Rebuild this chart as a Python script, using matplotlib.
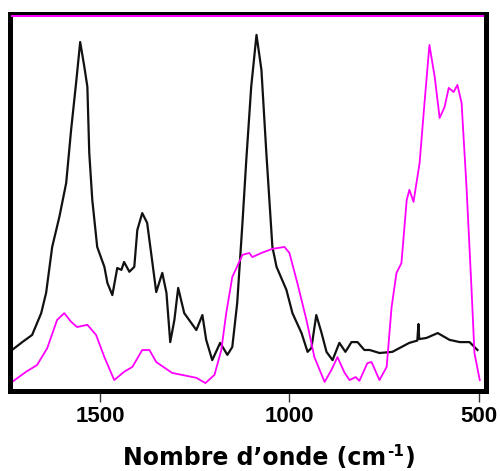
import matplotlib
matplotlib.use("Agg")
import matplotlib.pyplot as plt

plt.rcParams['font.family'] = ['Liberation Sans', 'DejaVu Sans']

# Black spectrum (wavenumber cm-1, intensity a.u.)
black_wn = [1733, 1706, 1680, 1656, 1643, 1627, 1608, 1590, 1577, 1563, 1553,
            1542, 1534, 1529, 1521, 1508, 1489, 1481, 1468, 1455, 1444, 1437,
            1423, 1410, 1402, 1389, 1376, 1362, 1352, 1336, 1325, 1315, 1304,
            1294, 1278, 1246, 1230, 1220, 1204, 1183, 1164, 1151, 1138, 1124,
            1114, 1101, 1087, 1074, 1061, 1045, 1034, 1008, 992, 968, 952, 942,
            929, 915, 902, 886, 868, 852, 836, 820, 802, 788, 762, 728, 683,
            662, 659, 657, 638, 608, 577, 550, 524, 503]
black_int = [10.1, 12.2, 14.1, 19.9, 25.3, 37.5, 45.5, 54.5, 68.6, 81.9, 92.0,
             85.4, 80.1, 62.5, 50.0, 37.5, 32.2, 27.9, 24.7, 31.9, 31.4, 33.5,
             30.9, 32.2, 42.0, 46.5, 43.9, 33.2, 25.5, 30.6, 25.3, 12.2, 18.1,
             26.6, 19.9, 15.4, 19.4, 12.8, 7.4, 12.0, 8.8, 10.9, 22.6, 44.1,
             60.6, 80.1, 93.9, 84.6, 62.5, 37.5, 32.2, 26.1, 19.9, 14.6, 9.6, 10.6,
             19.4, 14.6, 9.6, 7.4, 12.0, 9.6, 12.2, 12.2, 10.1, 10.1, 9.3, 9.6, 12.0,
             12.6, 17.0, 13.0, 13.3, 14.6, 12.8, 12.2, 12.2, 10.1]

# Magenta spectrum
mag_wn = [1733, 1696, 1667, 1640, 1614, 1595, 1577, 1561, 1534, 1511, 1489,
          1463, 1437, 1415, 1389, 1370, 1352, 1310, 1246, 1222, 1198, 1180,
          1167, 1151, 1124, 1106, 1098, 1074, 1045, 1013, 1000, 979, 955, 934,
          907, 889, 873, 854, 841, 825, 815, 794, 783, 762, 743, 730, 717, 704,
          690, 683, 672, 656, 643, 630, 616, 603, 590, 579, 566, 556, 545, 532,
          519, 511, 497]
mag_int = [1.6, 4.3, 6.1, 10.6, 18.1, 19.9, 17.6, 16.2, 16.8, 14.1, 8.2,
           2.1, 4.3, 5.6, 10.1, 10.1, 6.9, 4.0, 2.7, 1.3, 3.5, 10.1,
           19.9, 29.5, 35.4, 35.9, 34.8, 35.9, 37.0, 37.5, 35.9, 27.9, 18.1, 8.2,
           1.6, 4.8, 8.2, 4.0, 2.1, 2.9, 1.9, 6.6, 6.9, 2.1, 5.6, 21.5, 30.6, 33.2,
           50.0, 52.7, 49.5, 59.8, 75.8, 91.2, 82.7, 71.8, 74.7, 79.8, 78.7, 80.6, 75.8, 53.5,
           26.9, 9.3, 2.1]

xticks = [1500, 1000, 500]
xlabels = ["1500", "1000", "500"]
label_main = "Nombre d\u2019onde (cm"
label_sup = "-1"
label_end = ")"

W, H = 500, 471
fig = plt.figure(figsize=(W / 100, H / 100), dpi=100)
ax = fig.add_axes([0.0196, 0.1699, 0.952, 0.800])

ax.plot(black_wn, black_int, color='#111111', lw=1.6)
ax.plot(mag_wn, mag_int, color='#ff00ff', lw=1.3)
ax.axhline(99.0, xmin=0.005, xmax=0.995, color='#ff00ff', lw=1.5,
           zorder=3, clip_on=False)

ax.set_xlim(1739, 481)
ax.set_ylim(-0.8, 99.4)
ax.set_yticks([])
ax.set_xticks(xticks)
ax.set_xticklabels(xlabels, fontsize=16, fontweight='bold')
ax.tick_params(axis='x', length=8, width=1, pad=3, color='#333333')
for s in ax.spines.values():
    s.set_linewidth(3.6)
    s.set_color('black')

# x-axis title built from pieces so the superscript uses a plain hyphen
fig.canvas.draw()
r = fig.canvas.get_renderer()
fam = ['DejaVu Sans']
x_start, x_end_target = 123.0, 415.0
yb = 1 - 464.5 / H


def build(fs):
    t1 = fig.text(x_start / W, yb, label_main, fontsize=fs, weight='bold',
                  family=fam, ha='left', va='baseline')
    b1 = t1.get_window_extent(r)
    t2 = fig.text((b1.x1 + 0.5) / W, yb + 9.0 / H, label_sup, fontsize=fs * 0.64,
                  weight='bold', family=fam, ha='left', va='baseline')
    b2 = t2.get_window_extent(r)
    t3 = fig.text((b2.x1 + 0.5) / W, yb, label_end, fontsize=fs, weight='bold',
                  family=fam, ha='left', va='baseline')
    b3 = t3.get_window_extent(r)
    return [t1, t2, t3], b3.x1 - b1.x0


fs = 16.0
texts, width = build(fs)
for _ in range(2):
    for t in texts:
        t.remove()
    fs = fs * (x_end_target - x_start) / width
    texts, width = build(fs)

fig.savefig("out.png", dpi=100)
